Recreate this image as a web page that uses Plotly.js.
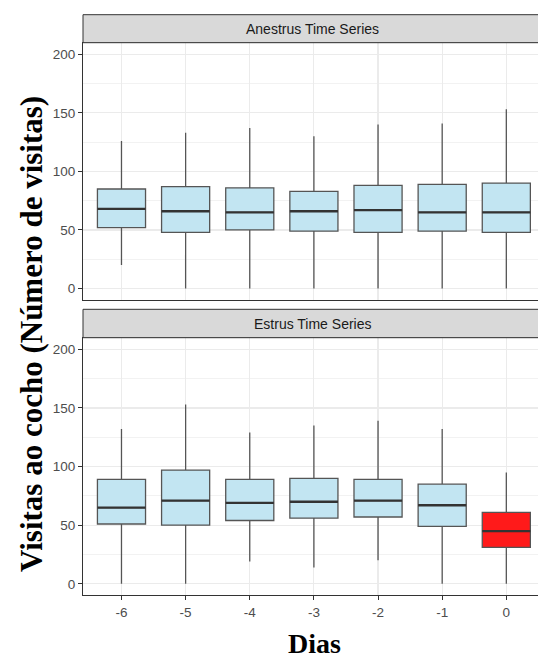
<!DOCTYPE html>
<html>
<head>
<meta charset="utf-8">
<script src="https://cdn.plot.ly/plotly-3.0.1.min.js"></script>
<style>html,body{margin:0;padding:0;background:#fff;}#chart{width:538px;height:659px;}</style>
</head>
<body>
<div id="chart"></div>
<script>
// ---- data ----
var days = [-6, -5, -4, -3, -2, -1, 0];
var tickLabels = ["-6", "-5", "-4", "-3", "-2", "-1", "0"];
var panelTitles = ["Anestrus Time Series", "Estrus Time Series"];

var anestrusQ1     = [52, 48, 50, 49, 48, 49, 48];
var anestrusMedian = [68, 66, 65, 66, 67, 65, 65];
var anestrusQ3     = [85, 87, 86, 83, 88, 89, 90];
var anestrusLow    = [20, 0, 0, 0, 0, 0, 0];
var anestrusHigh   = [126, 133, 137, 130, 140, 141, 153];

var estrusQ1     = [51, 50, 54, 56, 57, 49, 31];
var estrusMedian = [65, 71, 69, 70, 71, 67, 45];
var estrusQ3     = [89, 97, 89, 90, 89, 85, 61];
var estrusLow    = [0, 0, 19, 14, 20, 0, 0];
var estrusHigh   = [132, 153, 129, 135, 139, 132, 95];

var highlightDay = 0; // estrus day 0 drawn in red

// ---- styling / layout ----
var W = 538, H = 659, L = 83;
var BLUE = "rgb(194,229,242)", RED = "rgb(255,26,26)";
var BOXW = 0.75;
function fy(py) { return 1 - py / H; }
function fx(px) { return (px - L) / (W - L); }

var traces = [];
function addPanel(q1, med, q3, lo, hi, xa, ya, isEstrus) {
  var mx = [], my = [];
  for (var i = 0; i < days.length; i++) {
    var red = isEstrus && days[i] === highlightDay;
    traces.push({
      type: "box", x: [days[i]], q1: [q1[i]], median: [med[i]], q3: [q3[i]],
      lowerfence: [lo[i]], upperfence: [hi[i]],
      width: BOXW, whiskerwidth: 0, boxpoints: false,
      fillcolor: red ? RED : BLUE,
      line: { color: "#555555", width: 1.3 },
      xaxis: xa, yaxis: ya, showlegend: false, hoverinfo: "skip"
    });
    mx.push(days[i] - BOXW / 2, days[i] + BOXW / 2, null);
    my.push(med[i], med[i], null);
  }
  traces.push({
    type: "scatter", mode: "lines", x: mx, y: my,
    line: { color: "#333333", width: 2.3 },
    xaxis: xa, yaxis: ya, showlegend: false, hoverinfo: "skip"
  });
}
addPanel(anestrusQ1, anestrusMedian, anestrusQ3, anestrusLow, anestrusHigh, "x2", "y2", false);
addPanel(estrusQ1, estrusMedian, estrusQ3, estrusLow, estrusHigh, "x", "y", true);

var tickFont = { family: "Liberation Sans, Arial, sans-serif", size: 13.5, color: "#4D4D4D" };
var xRange = [-6.6, 0.494];
var yRange = [-9.8, 209.9];

function yAxis(domain) {
  return {
    domain: domain, range: yRange, tickvals: [0, 50, 100, 150, 200],
    ticks: "outside", ticklen: 4, tickwidth: 1, tickcolor: "#333333",
    tickfont: tickFont, showline: true, linecolor: "#333333", linewidth: 1, mirror: false,
    showgrid: true, gridcolor: "#EBEBEB", gridwidth: 1.2, zeroline: false,
    minor: { tickvals: [25, 75, 125, 175], showgrid: true, gridcolor: "#F2F2F2", gridwidth: 1, ticks: "" },
    fixedrange: true
  };
}

var topDomain = [fy(300), fy(42.7)];
var botDomain = [fy(595.3), fy(337.7)];

var layout = {
  width: W, height: H,
  margin: { l: L, r: 0, t: 0, b: 0 },
  paper_bgcolor: "#ffffff", plot_bgcolor: "#ffffff",
  showlegend: false,
  xaxis: {
    anchor: "y", range: xRange, tickvals: days, ticktext: tickLabels,
    ticks: "outside", ticklen: 4, tickwidth: 1, tickcolor: "#333333",
    tickfont: tickFont, showline: true, linecolor: "#333333", linewidth: 1, mirror: true,
    showgrid: true, gridcolor: "#EBEBEB", gridwidth: 1.2, zeroline: false, fixedrange: true
  },
  xaxis2: {
    anchor: "y2", range: xRange, tickvals: days, showticklabels: false, ticks: "",
    showline: true, linecolor: "#333333", linewidth: 1, mirror: true,
    showgrid: true, gridcolor: "#EBEBEB", gridwidth: 1.2, zeroline: false, fixedrange: true
  },
  yaxis: yAxis(botDomain),
  yaxis2: yAxis(topDomain),
  shapes: [
    { type: "rect", xref: "paper", yref: "paper", x0: 0, x1: 1.05, y0: fy(42.7), y1: fy(14.7),
      fillcolor: "#D9D9D9", line: { color: "#333333", width: 1 }, layer: "above" },
    { type: "rect", xref: "paper", yref: "paper", x0: 0, x1: 1.05, y0: fy(337.7), y1: fy(309.3),
      fillcolor: "#D9D9D9", line: { color: "#333333", width: 1 }, layer: "above" }
  ],
  annotations: [
    { text: panelTitles[0], xref: "paper", yref: "paper", x: fx(312), y: fy(29),
      xanchor: "center", yanchor: "middle", showarrow: false,
      font: { family: "Liberation Sans, Arial, sans-serif", size: 14, color: "#1A1A1A" } },
    { text: panelTitles[1], xref: "paper", yref: "paper", x: fx(312), y: fy(324),
      xanchor: "center", yanchor: "middle", showarrow: false,
      font: { family: "Liberation Sans, Arial, sans-serif", size: 14, color: "#1A1A1A" } },
    { text: "<b>Dias</b>", xref: "paper", yref: "paper", x: fx(314), y: fy(643),
      xanchor: "center", yanchor: "middle", showarrow: false,
      font: { family: "Liberation Serif, Times New Roman, serif", size: 28, color: "#000000" } },
    { text: "<b>Visitas ao cocho (Número de visitas)</b>", xref: "paper", yref: "paper",
      x: fx(31), y: fy(334), textangle: -90,
      xanchor: "center", yanchor: "middle", showarrow: false,
      font: { family: "Liberation Serif, Times New Roman, serif", size: 31, color: "#000000" } }
  ]
};

Plotly.newPlot("chart", traces, layout, { displayModeBar: false, staticPlot: true });
</script>
</body>
</html>
